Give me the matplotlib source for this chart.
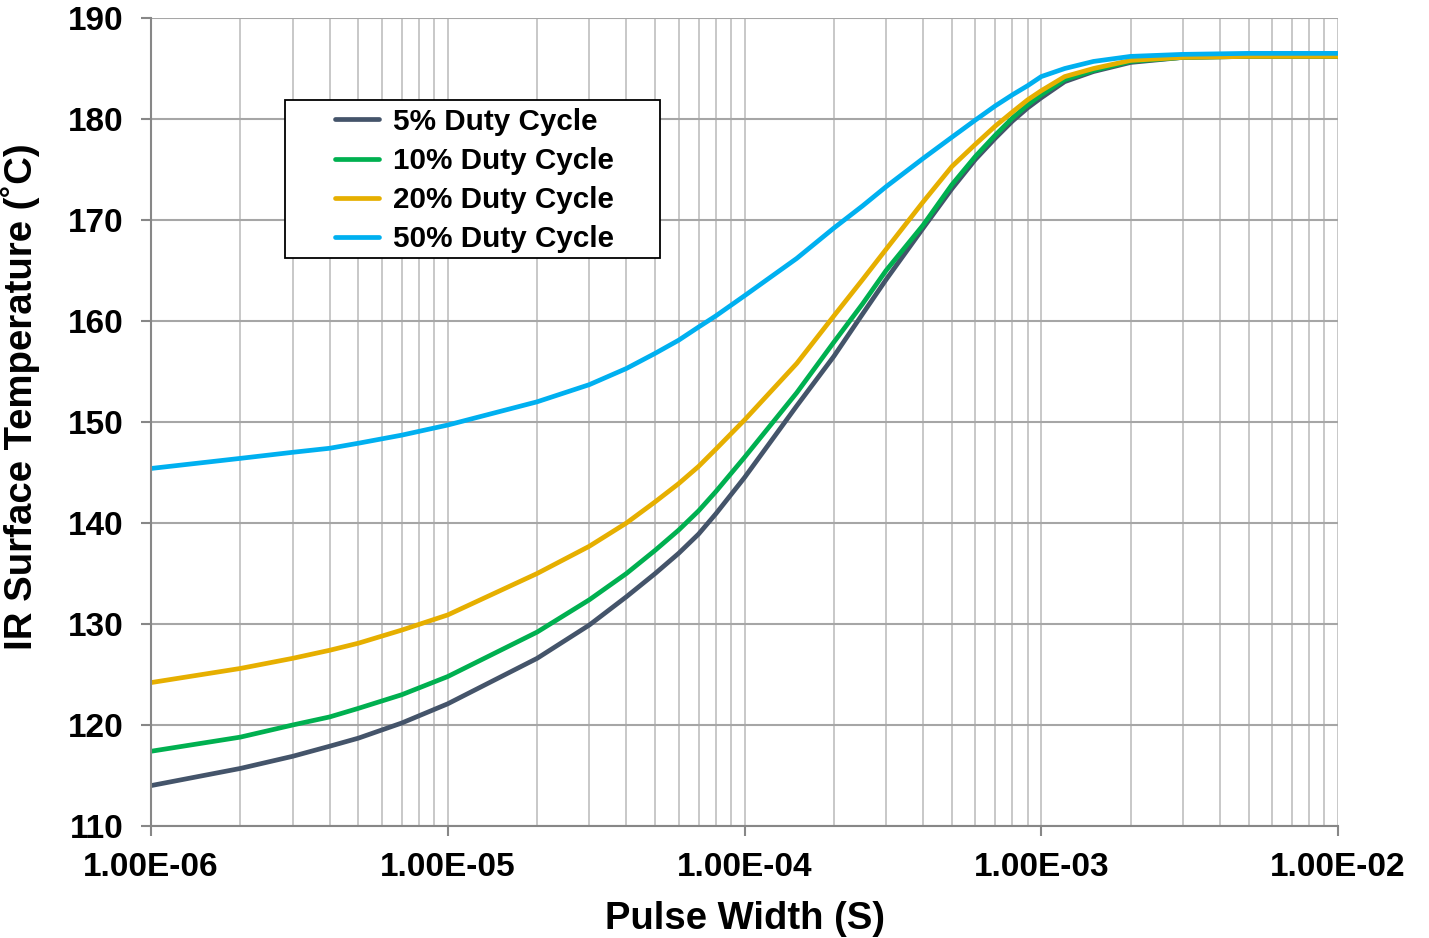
import matplotlib
matplotlib.use("Agg")
import matplotlib.pyplot as plt
from matplotlib.patches import Rectangle
from matplotlib.ticker import LogLocator, NullFormatter

plt.rcParams["font.family"] = ["Liberation Sans", "DejaVu Sans"]
plt.rcParams["font.weight"] = "bold"

# pulse width (s)
pulse_width = [1e-6, 2e-6, 3e-6, 4e-6, 5e-6, 7e-6, 1e-5, 2e-5, 3e-5, 4e-5, 5e-5, 6e-5, 7e-5,
               8e-5, 1e-4, 1.5e-4, 2e-4, 2.5e-4, 3e-4, 4e-4, 5e-4, 6e-4, 7e-4, 8e-4, 9e-4,
               1e-3, 1.2e-3, 1.5e-3, 2e-3, 3e-3, 5e-3, 1e-2]

# IR surface temperature (C) per duty cycle
temp_5 = [114.0, 115.7, 116.9, 117.9, 118.7, 120.2, 122.1, 126.6, 129.9, 132.7, 135.0, 137.0, 138.9,
          140.9, 144.5, 151.6, 156.5, 160.7, 164.1, 169.2, 173.1, 176.0, 178.1, 179.8, 181.1,
          182.1, 183.7, 184.7, 185.6, 186.1, 186.2, 186.2]
temp_10 = [117.4, 118.8, 120.0, 120.8, 121.65, 123.0, 124.8, 129.2, 132.4, 135.0, 137.3, 139.3, 141.2,
           143.1, 146.5, 152.9, 157.9, 161.7, 165.0, 169.5, 173.5, 176.3, 178.4, 180.1, 181.4,
           182.4, 183.9, 184.8, 185.7, 186.1, 186.2, 186.2]
temp_20 = [124.2, 125.6, 126.6, 127.4, 128.1, 129.4, 130.9, 135.0, 137.7, 140.0, 142.1, 143.9, 145.6,
           147.3, 150.2, 155.8, 160.5, 164.1, 167.1, 171.8, 175.3, 177.5, 179.3, 180.7, 181.9,
           182.8, 184.2, 185.0, 185.8, 186.1, 186.2, 186.2]
temp_50 = [145.4, 146.4, 147.0, 147.4, 147.9, 148.7, 149.7, 152.0, 153.7, 155.3, 156.8, 158.1, 159.4,
           160.5, 162.5, 166.2, 169.2, 171.4, 173.3, 176.1, 178.2, 179.9, 181.3, 182.4, 183.3,
           184.2, 185.0, 185.7, 186.2, 186.4, 186.5, 186.5]

labels = ["5% Duty Cycle", "10% Duty Cycle", "20% Duty Cycle", "50% Duty Cycle"]
colors = ["#44546A", "#00B050", "#E6AF00", "#00B0F0"]

xticks = [1e-6, 1e-5, 1e-4, 1e-3, 1e-2]
xtick_labels = ["1.00E-06", "1.00E-05", "1.00E-04", "1.00E-03", "1.00E-02"]
yticks = [110, 120, 130, 140, 150, 160, 170, 180, 190]

fig = plt.figure(figsize=(14.29, 9.38), dpi=100)
ax = fig.add_axes([0.1057, 0.1194, 0.8306, 0.8614])

for temps, lab, col in zip([temp_5, temp_10, temp_20, temp_50], labels, colors):
    ax.plot(pulse_width, temps, color=col, lw=3.4, label=lab,
            solid_capstyle="round", solid_joinstyle="round")

ax.set_xscale("log")
ax.set_xlim(1e-6, 1e-2)
ax.set_ylim(110, 190)
ax.set_xticks(xticks)
ax.set_xticklabels(xtick_labels)
ax.xaxis.set_minor_locator(LogLocator(base=10, subs=range(2, 10)))
ax.xaxis.set_minor_formatter(NullFormatter())
ax.set_yticks(yticks)

ax.set_axisbelow(True)
ax.yaxis.grid(True, color="#A6A6A6", lw=1.5)
ax.xaxis.grid(True, which="both", color="#C4C4C4", lw=1.3)

for side in ["top", "right"]:
    ax.spines[side].set_visible(False)
for side in ["left", "bottom"]:
    ax.spines[side].set_color("#878787")
    ax.spines[side].set_linewidth(1.5)

ax.tick_params(axis="both", which="major", direction="out", length=7, width=1.5,
               color="#878787", labelsize=24)
ax.tick_params(axis="y", pad=13)
ax.tick_params(axis="x", pad=12)
ax.tick_params(axis="x", which="minor", length=0)
for t in ax.get_xticklabels() + ax.get_yticklabels():
    t.set_fontweight("bold")

ax.set_xlabel("Pulse Width (S)", fontsize=27.5, fontweight="bold", labelpad=13)
ax.set_ylabel("IR Surface Temperature (˚C)", fontsize=27.6, fontweight="bold")
ax.yaxis.set_label_coords(-0.0935, 0.531)

# legend box
ax.add_patch(Rectangle((0.1129, 0.703), 0.3159, 0.1955, transform=ax.transAxes,
                       facecolor="white", edgecolor="black", lw=1.3, zorder=4))
ax.legend(loc="upper left", bbox_to_anchor=(0.155, 0.889), frameon=False,
          fontsize=21.3, borderpad=0, borderaxespad=0, handlelength=1.5,
          handletextpad=0.45, labelspacing=0.38).set_zorder(5)

fig.savefig("out.png", dpi=100)
